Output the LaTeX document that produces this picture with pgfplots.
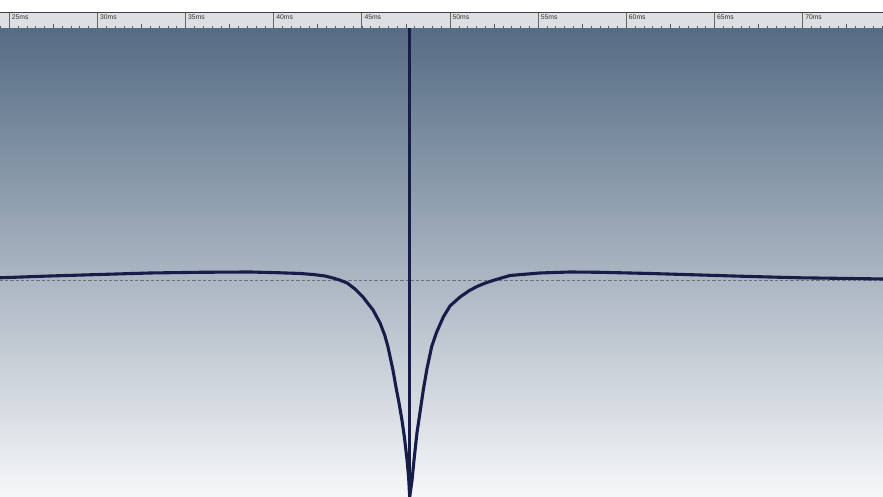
\documentclass[border=0pt]{standalone}
\usepackage{pgfplots}
\pgfplotsset{compat=1.18}
\usepackage{fontspec}
\setmainfont{Liberation Sans}
\definecolor{bgtop}{RGB}{85,108,132}
\definecolor{bgbot}{RGB}{246,247,249}
\definecolor{wave}{RGB}{24,28,72}
\definecolor{rulerbg}{RGB}{222,223,227}
\definecolor{dashc}{RGB}{105,115,125}
\begin{document}
\begin{tikzpicture}
\useasboundingbox (0,0) rectangle (441.5pt,248.5pt);
\begin{axis}[
  name=main, at={(0,0)}, anchor=south west,
  scale only axis, width=441.5pt, height=234.5pt,
  xmin=24.472, xmax=74.557, ymin=-216.5, ymax=252.5,
  axis line style={draw=none}, ticks=none,
  axis background/.style={shade, top color=bgtop, bottom color=bgbot},
  clip=true,
]
\addplot[dashc, line width=0.6pt, dash pattern=on 1.6pt off 1pt] coordinates {(24.472,0) (74.557,0)};
\addplot[wave, line width=1.55pt, line join=round] coordinates {
(24.47,2.7) (27.31,4.5) (30.14,6.0) (32.98,7.5) (35.82,8.2) (38.65,8.5)
(40.35,7.7) (41.49,7.0) (42.23,6.0) (42.91,4.5) (43.36,2.5) (43.76,0.3)
(44.16,-2.5) (44.61,-8.5) (45.06,-16.5) (45.63,-29.5) (46.03,-42.5)
(46.30,-55) (46.48,-66.5) (46.76,-89.5) (46.93,-106.5) (47.10,-122)
(47.27,-139.5) (47.42,-158) (47.56,-179.5) (47.65,-197) (47.71,-216.5)
(47.841,-200) (47.955,-179.5) (48.125,-152) (48.295,-132) (48.482,-109.5)
(48.692,-88) (48.959,-66) (49.231,-52) (49.617,-36.5) (49.996,-25.5)
(50.564,-16.5) (51.103,-10) (51.528,-6) (52.010,-2.5) (52.436,0)
(53.40,5.0) (55.10,7.5) (56.80,8.5) (58.50,8.2) (61.34,7.0) (64.18,5.5)
(67.01,4.0) (69.85,2.7) (72.69,2.0) (74.56,1.5)};
\addplot[wave, line width=1.6pt] coordinates {(47.72,252.5) (47.72,-212)};
\end{axis}
\begin{axis}[
  name=ruler, at={(main.north west)}, anchor=south west,
  scale only axis, width=441.5pt, height=7.75pt,
  xmin=24.472, xmax=74.557, ymin=0, ymax=1,
  axis line style={draw=none},
  axis background/.style={fill=rulerbg},
  ytick=\empty,
  xtick={25,30,35,40,45,50,55,60,65,70},
  xticklabels={25ms,30ms,35ms,40ms,45ms,50ms,55ms,60ms,65ms,70ms},
  xticklabel pos=upper,
  xticklabel style={anchor=north west, font=\fontsize{3.4}{3.6}\selectfont, text=black!80, inner sep=0.6pt, xshift=0.5pt, yshift=-0.3pt},
  xmajorgrids, grid style={black!60, line width=0.45pt},
  major tick length=0pt,
  minor xtick={24.5,25,...,74.5},
  minor tick length=1.1pt,
  xtick pos=lower, tick align=inside,
  tick style={black!65, line width=0.35pt},
  extra x ticks={27.5,32.5,37.5,42.5,47.5,52.5,57.5,62.5,67.5,72.5},
  extra x tick labels={},
  extra x tick style={xmajorgrids=false, major tick length=2.2pt},
]
\addplot[draw=none] coordinates {(25,0.5)};
\draw[black!75, line width=0.6pt] (rel axis cs:0,1) -- (rel axis cs:1,1);
\end{axis}
\end{tikzpicture}
\end{document}
